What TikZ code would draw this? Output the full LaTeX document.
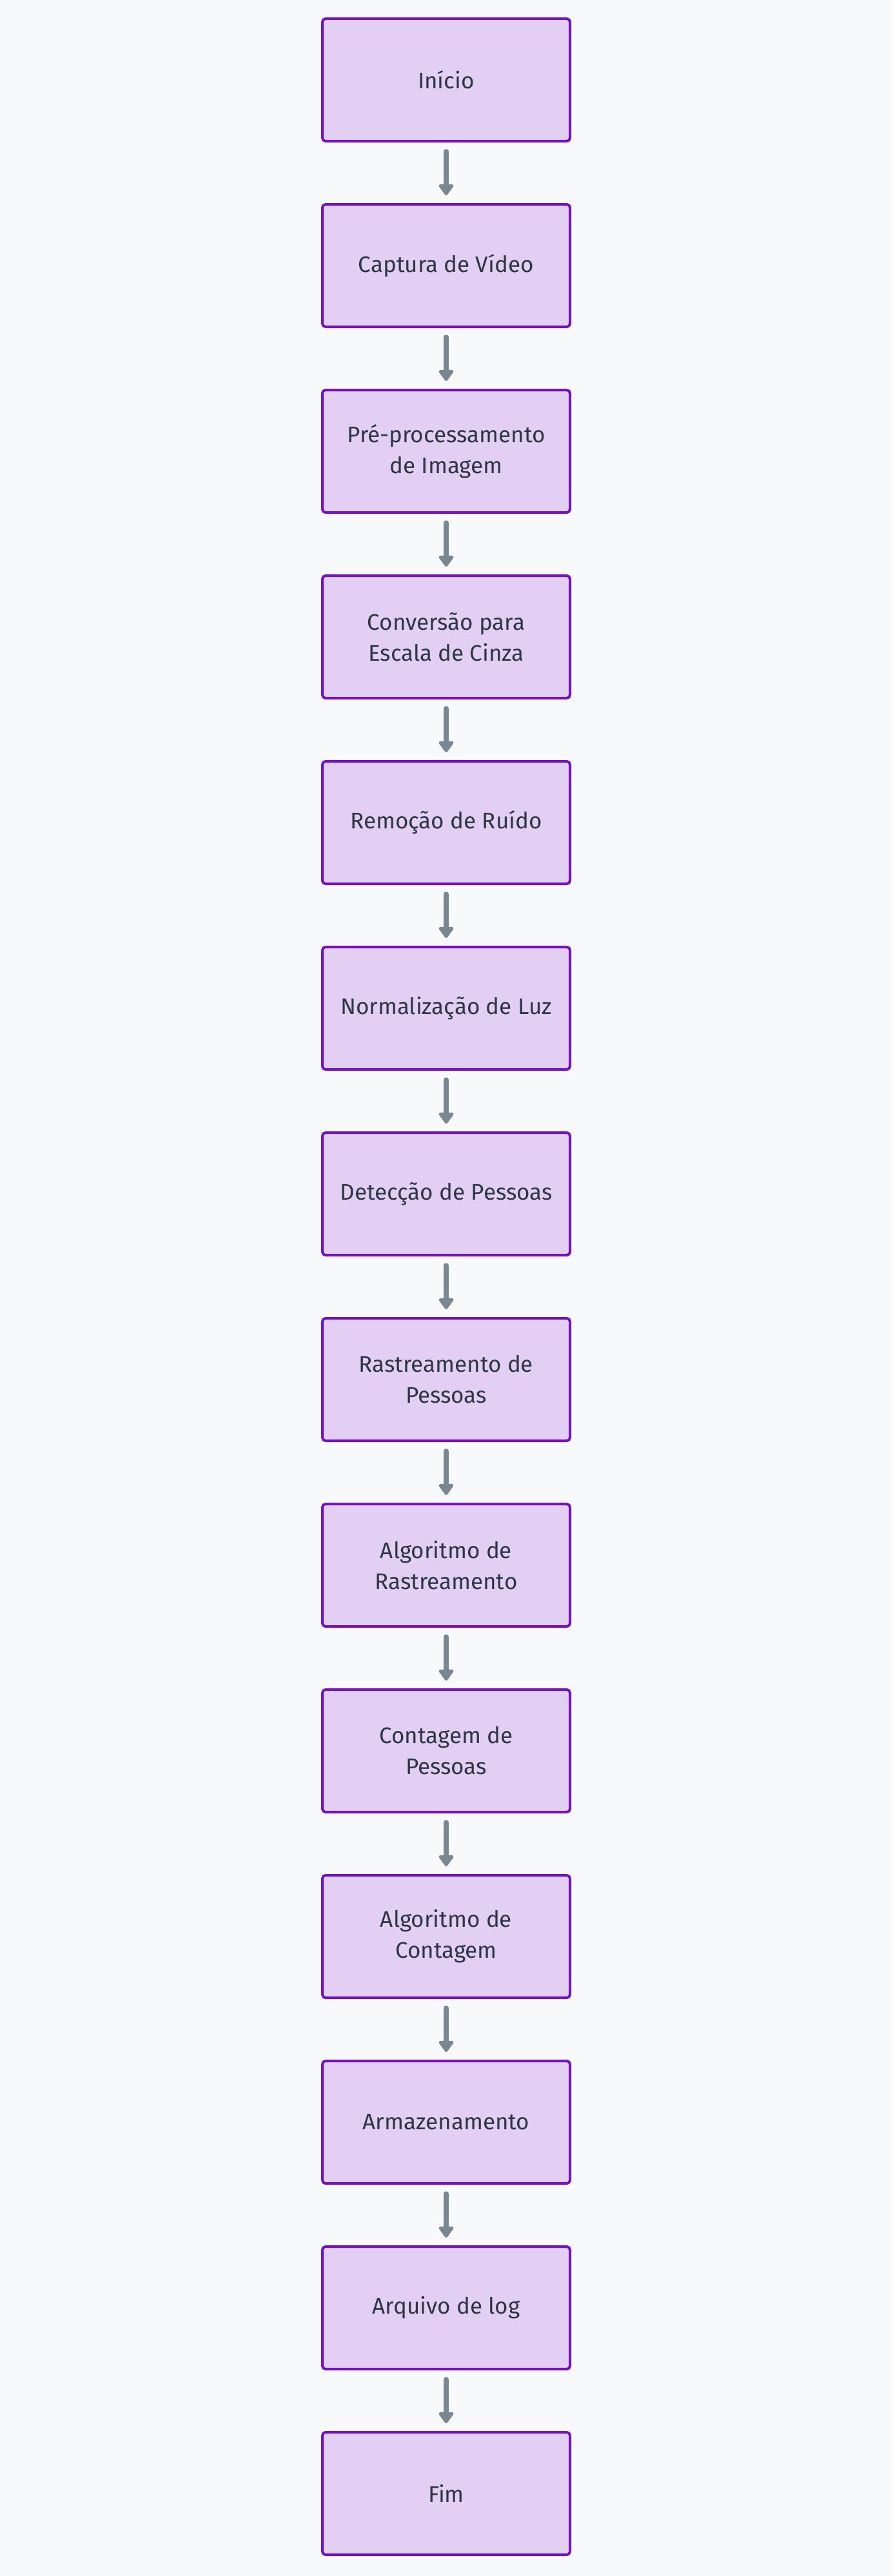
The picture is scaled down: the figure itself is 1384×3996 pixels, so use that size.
\documentclass[tikz,border=0pt]{standalone}
\usepackage{fontspec}
\setmainfont{Fira Sans}
\usetikzlibrary{arrows.meta}
\definecolor{bgc}{HTML}{F8F9FA}
\definecolor{boxfill}{HTML}{E3CFF3}
\definecolor{boxline}{HTML}{7412C2}
\definecolor{arrowc}{HTML}{798793}
\definecolor{textc}{HTML}{2B3743}
\tikzset{
  stepbox/.style={draw=boxline, fill=boxfill, line width=4pt, rounded corners=5pt,
    minimum width=384pt, minimum height=190pt, align=center, text=textc,
    font=\fontsize{35}{48}\selectfont, inner sep=0pt},
  flow/.style={draw=arrowc, line width=7.5pt, line cap=round,
    -{Triangle[width=26pt,length=19pt,round]}, shorten <=14pt, shorten >=12pt}
}
\begin{document}
\begin{tikzpicture}[x=1pt,y=-1pt]
\fill[bgc] (0,0) rectangle (1384,3996);
\useasboundingbox (0,0) rectangle (1384,3996);
\foreach \i/\t in {0/{Início},1/{Captura de Vídeo},2/{Pré-processamento\\de Imagem},
  3/{Conversão para\\Escala de Cinza},4/{Remoção de Ruído},5/{Normalização de Luz},
  6/{Detecção de Pessoas},7/{Rastreamento de\\Pessoas},8/{Algoritmo de\\Rastreamento},
  9/{Contagem de\\Pessoas},10/{Algoritmo de\\Contagem},11/{Armazenamento},
  12/{Arquivo de log},13/{Fim}}{
  \node[stepbox] (n\i) at (692,{124+288*\i}) {\t};
}
\foreach \i [evaluate=\i as \j using int(\i+1)] in {0,...,12}{
  \draw[flow] (n\i.south) -- (n\j.north);
}
\end{tikzpicture}
\end{document}
